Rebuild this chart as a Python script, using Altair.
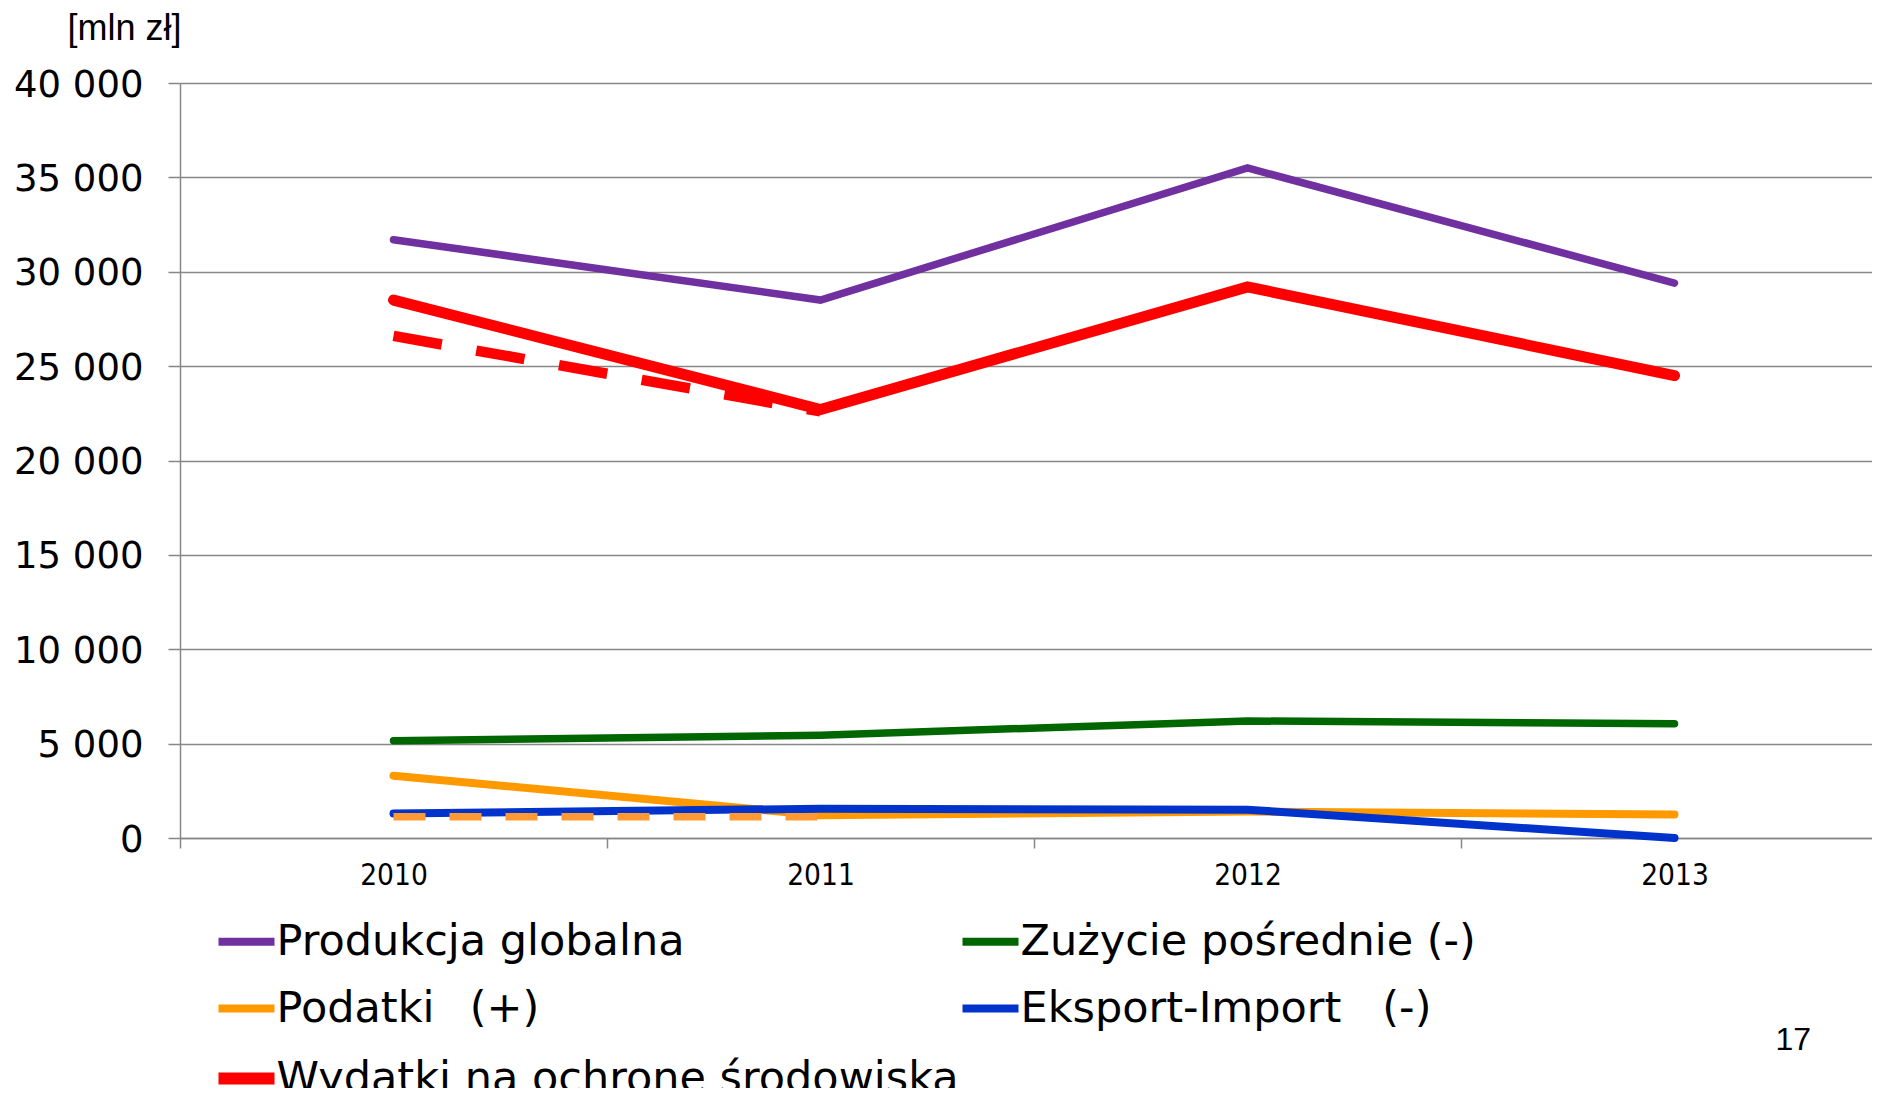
import altair as alt
import pandas as pd

# ---- data (mln zł) ----
years = [2010, 2011, 2012, 2013]

series_names = [
    "Produkcja globalna",
    "Zużycie pośrednie (-)",
    "Podatki\u2002 (+)",
    "Eksport-Import\u00a0\u00a0 (-)",
    "Wydatki na ochronę środowiska",
]
series_colors = ["#7030A0", "#006600", "#FF9900", "#0033CC", "#FF0000"]
series_widths = [7.5, 7.5, 8, 8, 11]

# legend order (filled column by column: 3 rows x 2 columns)
legend_order = [0, 2, 4, 1, 3]

produkcja = [31700, 28500, 35500, 29400]
zuzycie = [5150, 5450, 6200, 6050]
podatki = [3300, 1200, 1400, 1250]
eksport = [1300, 1550, 1500, 0]
wydatki = [28500, 22700, 29200, 24500]

dashed_years = [2010, 2011]
wydatki_dashed = [26600, 22600]
podatki_dashed = [1130, 1130]

y_ticks = [0, 5000, 10000, 15000, 20000, 25000, 30000, 35000, 40000]
x_band_edges = [2009.5, 2010.5, 2011.5, 2012.5]

# ---- tables ----
all_series = [produkcja, zuzycie, podatki, eksport, wydatki]
rows = []
for name, vals, sw in zip(series_names, all_series, series_widths):
    for yr, v in zip(years, vals):
        rows.append({"year": yr, "value": v, "series": name, "sw": sw})
df = pd.DataFrame(rows)
thin_df = df[df["series"] != series_names[4]]
red_df = df[df["series"] == series_names[4]]

red_dash_df = pd.DataFrame({"year": dashed_years, "value": wydatki_dashed})
orange_dash_df = pd.DataFrame({"year": dashed_years, "value": podatki_dashed})

GRAY = "#878787"
PLOT_W = 1692
YEAR_PX = 427

x_enc = alt.X(
    "year:Q",
    scale=alt.Scale(domain=[2009.5, 2009.5 + PLOT_W / YEAR_PX], nice=False, zero=False),
    axis=alt.Axis(
        title=None,
        values=x_band_edges,
        grid=False,
        domainColor=GRAY,
        domainWidth=1.5,
        tickColor=GRAY,
        tickWidth=1.5,
        tickSize=10,
        labelAngle=0,
        labelExpr="format(datum.value + 0.5, 'd')",
        labelOffset=YEAR_PX / 2,
        labelFlush=False,
        labelOverlap=False,
        labelFont="DejaVu Sans Condensed, DejaVu Sans",
        labelFontSize=29.5,
        labelColor="black",
        labelBaseline="alphabetic",
        labelPadding=36,
    ),
)

y_enc = alt.Y(
    "value:Q",
    scale=alt.Scale(domain=[0, 40000], nice=False, zero=True),
    axis=alt.Axis(
        values=y_ticks,
        grid=True,
        gridColor=GRAY,
        gridWidth=1.5,
        domainColor=GRAY,
        domainWidth=1.5,
        tickColor=GRAY,
        tickWidth=1.5,
        tickSize=12,
        labelFont="DejaVu Sans",
        labelFontSize=37,
        labelColor="black",
        labelPadding=25,
        labelOffset=2,
        labelExpr="replace(format(datum.value, ','), ',', ' ')",
        title="[mln zł]",
        titleAngle=0,
        titleAlign="left",
        titleBaseline="alphabetic",
        titleX=-113,
        titleY=-44,
        titleFont="Liberation Sans",
        titleFontSize=36,
        titleFontWeight="normal",
        titleColor="black",
    ),
)

legend = alt.Legend(
    orient="none",
    legendX=45,
    legendY=837,
    columns=2,
    title=None,
    symbolType="stroke",
    symbolSize=3136,
    symbolStrokeWidth=alt.ExprRef("datum.index === 2 ? 12 : 8"),
    labelFont="DejaVu Sans",
    labelFontSize=43,
    labelColor="black",
    labelLimit=0,
    labelOffset=8.5,
    columnPadding=-13,
    rowPadding=23,
)

color_enc = alt.Color(
    "series:N",
    scale=alt.Scale(
        domain=[series_names[i] for i in legend_order],
        range=[series_colors[i] for i in legend_order],
    ),
    legend=legend,
)
sw_enc = alt.StrokeWidth("sw:Q", scale=None, legend=None)

thin = alt.Chart(thin_df).mark_line(strokeCap="round").encode(
    x=x_enc, y=y_enc, color=color_enc, strokeWidth=sw_enc
)

red = alt.Chart(red_df).mark_line(strokeCap="round").encode(
    x=x_enc, y=y_enc, color=color_enc, strokeWidth=sw_enc
)

red_dash = alt.Chart(red_dash_df).mark_line(
    strokeWidth=10.5, strokeDash=[49, 35], strokeCap="butt", color="#FF0000"
).encode(x=x_enc, y=y_enc)

orange_dash = alt.Chart(orange_dash_df).mark_line(
    strokeWidth=7.5, strokeDash=[32, 24], strokeCap="butt", color="#FF9933"
).encode(x=x_enc, y=y_enc)

chart = (
    alt.layer(thin, red, red_dash, orange_dash)
    .properties(
        width=PLOT_W,
        height=755,
        padding={"left": 172, "top": 75, "right": 0, "bottom": 250},
        autosize=alt.AutoSizeParams(type="none"),
        title=alt.TitleParams(
            text="17",
            orient="bottom",
            anchor="end",
            frame="group",
            font="Liberation Sans",
            fontSize=32,
            fontWeight="normal",
            color="black",
            dx=-61,
            dy=-82,
        ),
    )
    .configure_view(stroke=None)
    .configure(background="white")
)

chart.save("out.html", embed_options={"renderer": "svg", "actions": False})
